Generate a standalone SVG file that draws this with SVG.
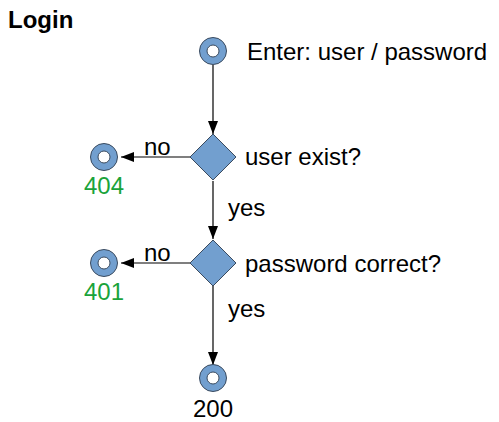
<svg xmlns="http://www.w3.org/2000/svg" width="499" height="422" viewBox="0 0 499 422">
<style>
.t{font-family:"Liberation Sans",Arial,sans-serif;font-size:24px;fill:#000}
.g{fill:#1aa33a}
.node{fill:#729fcf;stroke:#3a4a5e;stroke-width:1}
.hole{fill:#fff;stroke:#3a4a5e;stroke-width:1}
.edge{stroke:#000;stroke-width:1.2;fill:none}
</style>
<defs>
<marker id="ah" markerWidth="13" markerHeight="10" refX="13" refY="5" orient="auto" markerUnits="userSpaceOnUse">
<path d="M0,0 L13,5 L0,10 Z" fill="#000"/>
</marker>
</defs>
<rect width="499" height="422" fill="#fff"/>
<text x="8" y="28" class="t" font-weight="bold">Login</text>
<g id="connectors">
<line class="edge" x1="213" y1="65" x2="213" y2="134" marker-end="url(#ah)"/>
<line class="edge" x1="213" y1="181" x2="213" y2="239" marker-end="url(#ah)"/>
<line class="edge" x1="213" y1="286" x2="213" y2="365" marker-end="url(#ah)"/>
<line class="edge" x1="190" y1="157" x2="121" y2="157" marker-end="url(#ah)"/>
<line class="edge" x1="190" y1="263" x2="121" y2="263" marker-end="url(#ah)"/>
<text x="144" y="155" class="t">no</text>
<text x="144" y="261" class="t">no</text>
<text x="228" y="216" class="t">yes</text>
<text x="228" y="317" class="t">yes</text>
</g>
<g id="start">
<circle cx="213" cy="51" r="13.5" class="node"/>
<circle cx="213" cy="51" r="6" class="hole"/>
<text x="247" y="60" class="t">Enter: user / password</text>
</g>
<g id="userExist">
<path d="M213,134 L236,157 L213,180 L190,157 Z" class="node"/>
<text x="245" y="165" class="t">user exist?</text>
</g>
<g id="passwordCorrect">
<path d="M213,240 L236,263 L213,286 L190,263 Z" class="node"/>
<text x="245" y="272" class="t">password correct?</text>
</g>
<g id="end404">
<circle cx="104" cy="157" r="13.5" class="node"/>
<circle cx="104" cy="157" r="6" class="hole"/>
<text x="84" y="194" class="t g">404</text>
</g>
<g id="end401">
<circle cx="104" cy="263" r="13.5" class="node"/>
<circle cx="104" cy="263" r="6" class="hole"/>
<text x="84" y="300" class="t g">401</text>
</g>
<g id="end200">
<circle cx="213" cy="378" r="13.5" class="node"/>
<circle cx="213" cy="378" r="6" class="hole"/>
<text x="193" y="417" class="t">200</text>
</g>
</svg>
